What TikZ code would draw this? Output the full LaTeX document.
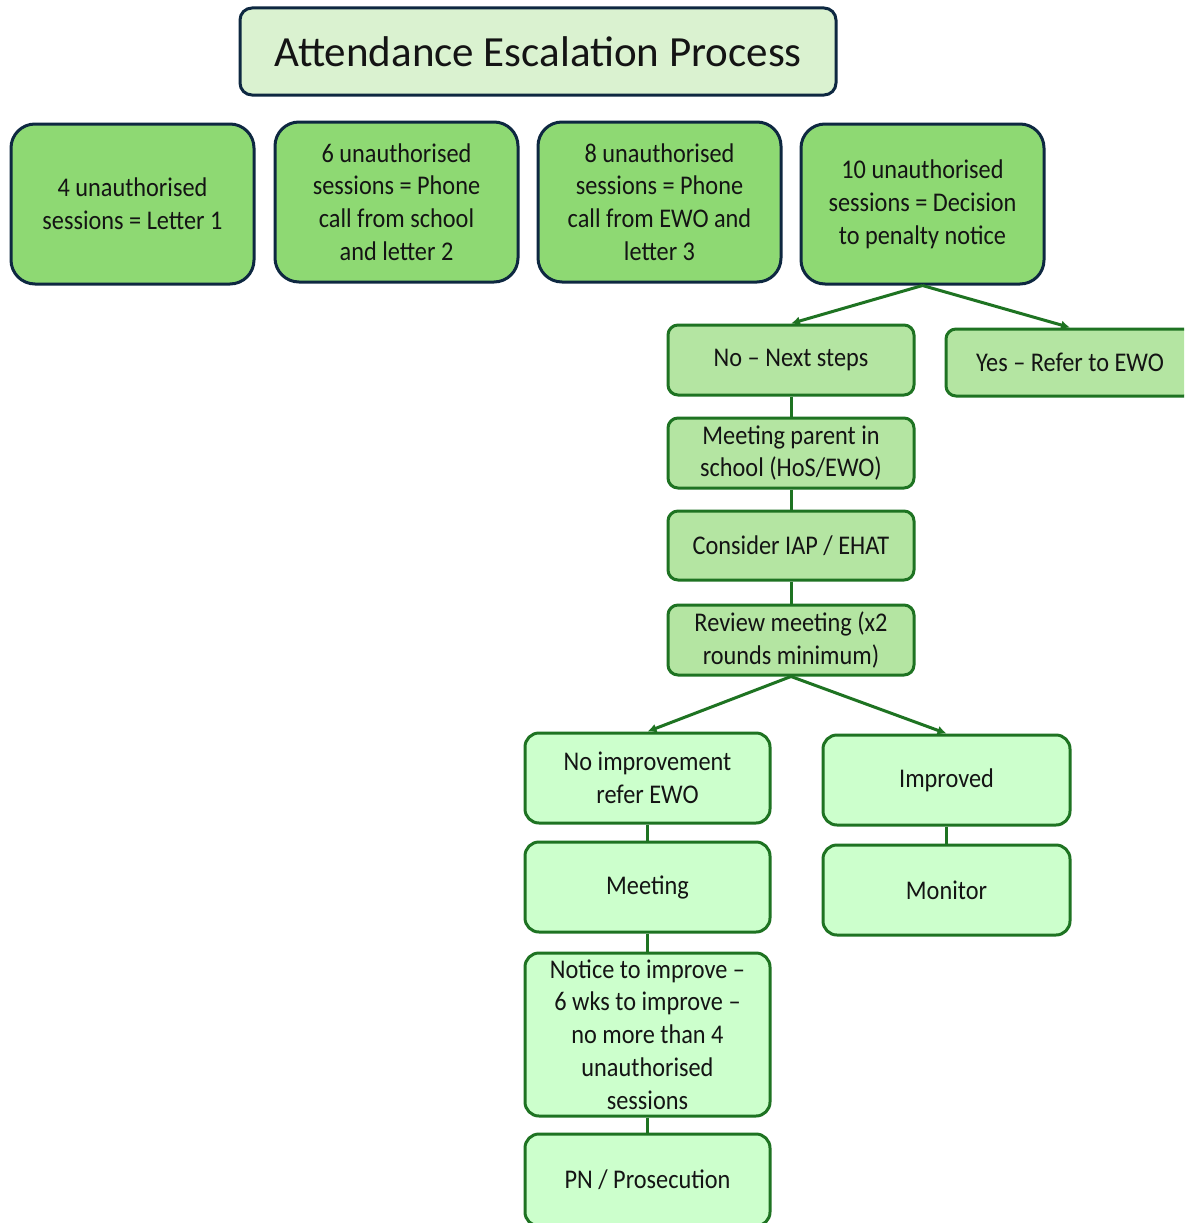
\documentclass[tikz,border=0pt]{standalone}
\usepackage{fontspec}
\setmainfont{Carlito}
\newfontfamily\boxfont[FakeStretch=0.9]{Carlito}
\usetikzlibrary{arrows.meta}
\definecolor{navy}{HTML}{0E2841}
\definecolor{dkgreen}{HTML}{1E7322}
\definecolor{titlegreen}{HTML}{DAF2D0}
\definecolor{topgreen}{HTML}{8ED973}
\definecolor{midgreen}{HTML}{B4E5A2}
\definecolor{lowgreen}{HTML}{CCFFCC}
\definecolor{txt}{HTML}{141414}
\begin{document}
\begin{tikzpicture}[x=1pt,y=-1pt,
  box/.style={rectangle, line width=3pt, align=center, text=txt, inner sep=0pt,
    font=\boxfont\fontsize{27}{32.8}\selectfont},
  titlebox/.style={box, draw=navy, fill=titlegreen, rounded corners=12pt,
    font=\fontsize{43}{50}\selectfont},
  topbox/.style={box, draw=navy, fill=topgreen, minimum width=243pt, minimum height=160pt, rounded corners=24pt},
  midbox/.style={box, draw=dkgreen, fill=midgreen, minimum width=246pt, minimum height=70pt, rounded corners=10pt},
  lowbox/.style={box, draw=dkgreen, fill=lowgreen, minimum width=245pt, minimum height=90pt, rounded corners=14pt},
  conn/.style={draw=dkgreen, line width=3pt},
  arr/.style={conn, -{Latex[length=9pt,width=9pt]}}
]
\useasboundingbox (0,0) rectangle (1184,1223);
\clip (0,0) rectangle (1184,1223);
\fill[white] (0,0) rectangle (1184,1223);

\node[titlebox, minimum width=596pt, minimum height=87pt] (title) at (538,51.5) {Attendance Escalation Process};

\node[topbox] (b1) at (132.5,204) {4 unauthorised\\sessions = Letter 1};
\node[topbox] (b2) at (396.5,202) {6 unauthorised\\sessions = Phone\\call from school\\and letter 2};
\node[topbox] (b3) at (659.5,202) {8 unauthorised\\sessions = Phone\\call from EWO and\\letter 3};
\node[topbox] (b4) at (922.5,204) {10 unauthorised\\sessions = Decision\\to penalty notice};

\node[midbox] (no) at (791,360) {No – Next steps};
\node[midbox, minimum width=248pt, minimum height=67pt] (yes) at (1070,362.5) {Yes – Refer to EWO};
\node[midbox] (meet) at (791,453) {Meeting parent in\\school (HoS/EWO)};
\node[midbox, minimum height=69pt] (iap) at (791,545.5) {Consider IAP / EHAT};
\node[midbox] (rev) at (791,640) {Review meeting (x2\\rounds minimum)};

\node[lowbox] (noimp) at (647.5,778) {No improvement\\refer EWO};
\node[lowbox, minimum width=247pt] (impr) at (946.5,780) {Improved};
\node[lowbox] (mtg) at (647.5,887) {Meeting};
\node[lowbox, minimum width=247pt] (mon) at (946.5,890) {Monitor};
\node[lowbox, minimum height=163pt] (notice) at (647.5,1034.5) {Notice to improve –\\6 wks to improve –\\no more than 4\\unauthorised\\sessions};
\node[lowbox, minimum height=92pt] (pn) at (647.5,1180) {PN / Prosecution};

\draw[arr] (b4.south) -- (no.north);
\draw[arr] (b4.south) -- (yes.north);
\draw[conn] (no) -- (meet);
\draw[conn] (meet) -- (iap);
\draw[conn] (iap) -- (rev);
\draw[arr] (rev.south) -- (noimp.north);
\draw[arr] (rev.south) -- (impr.north);
\draw[conn] (noimp) -- (mtg);
\draw[conn] (mtg) -- (notice);
\draw[conn] (notice) -- (pn);
\draw[conn] (impr) -- (mon);
\end{tikzpicture}
\end{document}
